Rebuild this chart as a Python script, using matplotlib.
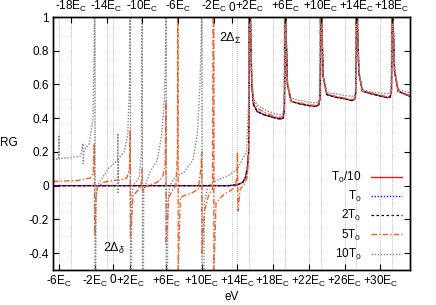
import numpy as np
import matplotlib
matplotlib.use("Agg")
import matplotlib.pyplot as plt

plt.rcParams['font.family'] = ['Liberation Sans', 'DejaVu Sans']
plt.rcParams['mathtext.fontset'] = 'custom'
plt.rcParams['mathtext.rm'] = 'Liberation Sans'
plt.rcParams['mathtext.it'] = 'Liberation Sans:italic'
plt.rcParams['font.size'] = 8.5

# x in units of E_C (bottom axis zero); top axis zero sits at +13.33 E_C
x2_shift = 13.33

bottom_ticks = [-6, -2, 0, 2, 6, 10, 14, 18, 22, 26, 30]
top_ticks = [-18, -14, -10, -6, -2, 0, 2, 6, 10, 14, 18]

# low temperature curves (T0/10, T0, 2T0)
x_low = [-6.67, 13.0, 14.0, 14.6, 14.9, 15.1, 15.25, 15.31, 15.33, 15.36, 15.45, 15.6, 15.8, 16.2, 17, 18, 18.8,
         19.1, 19.25, 19.31, 19.33, 19.36, 19.45, 19.6, 20, 21, 22, 22.8, 23.1, 23.25, 23.31, 23.33, 23.36, 23.45,
         23.6, 24, 25, 26, 26.8, 27.1, 27.25, 27.31, 27.33, 27.36, 27.45, 27.6, 28, 29, 30, 30.8, 31.1, 31.25,
         31.31, 31.33, 31.36, 31.45, 31.6, 32, 33.33]
y_t010 = [0, 0, 0.005, 0.02, 0.05, 0.1, 0.2, 0.5, 2, 2, 1.0, 0.6, 0.48, 0.44, 0.42, 0.405, 0.395,
          0.40, 0.45, 0.7, 2, 2, 0.9, 0.6, 0.50, 0.485, 0.475, 0.47, 0.48, 0.52, 0.75, 2, 2, 0.95,
          0.65, 0.54, 0.525, 0.515, 0.505, 0.51, 0.55, 0.8, 2, 2, 0.95, 0.67, 0.56, 0.545, 0.532, 0.522, 0.525,
          0.56, 0.8, 2, 2, 0.95, 0.68, 0.56, 0.53]
y_t0 = y_t010
y_2t0 = y_t010

# 5 T0
x_5t0 = [-6.67, -4, -2.5, -2.15, -2.05, -2.0, -1.95, -1.85, -1.7, -1, 0, 1, 1.6, 1.9, 1.98, 2.0, 2.03, 2.3,
         2.8, 3.1, 3.3, 3.33, 3.36, 3.6, 4, 5, 5.6, 5.9, 5.98, 6.0, 6.03, 6.3, 6.8, 7.1, 7.28, 7.33, 7.36,
         7.6, 8, 9, 9.6, 9.9, 10.0, 10.03, 10.3, 10.8, 11.2, 11.33, 11.36, 11.6, 12.5, 13.2, 13.7, 13.95, 14.0,
         14.05, 14.3, 14.8, 15.1, 15.25, 15.33, 15.36, 15.45, 15.6, 15.8, 16.2, 17, 18, 18.8,
         19.1, 19.25, 19.33, 19.36, 19.45, 19.6, 20, 21, 22, 22.8, 23.1, 23.25, 23.33, 23.36, 23.45,
         23.6, 24, 25, 26, 26.8, 27.1, 27.25, 27.33, 27.36, 27.45, 27.6, 28, 29, 30, 30.8, 31.1, 31.25,
         31.33, 31.36, 31.45, 31.6, 32, 33.33]
y_5t0 = [0.025, 0.03, 0.045, 0.08, 0.25, -0.3, -0.28, -0.06, -0.01, 0.02, 0.03, 0.035, 0.045, 0.1, 0.33, -0.3, -0.3, -0.06,
         -0.03, -0.01, 0.03, 0.1, -0.04, -0.01, 0.0, 0.02, 0.05, 0.12, 0.5, -0.35, -0.35, -0.07, -0.02, 0.0, 0.2, 2, -0.5,
         -0.07, -0.06, -0.04, -0.02, 0.1, 0.2, -0.4, -0.15, -0.05, -0.02, 2, -0.5, -0.1, -0.05, -0.03, -0.01, 0.05, 0.2,
         -0.15, -0.02, 0.01, 0.05, 0.2, 2, 2, 1.0, 0.62, 0.5, 0.46, 0.435, 0.415, 0.405,
         0.41, 0.46, 2, 2, 0.9, 0.6, 0.50, 0.49, 0.48, 0.475, 0.485, 0.53, 2, 2, 0.95,
         0.65, 0.545, 0.53, 0.52, 0.51, 0.515, 0.56, 2, 2, 0.95, 0.67, 0.56, 0.55, 0.537, 0.527, 0.53, 0.565,
         2, 2, 0.95, 0.68, 0.56, 0.535]

# 10 T0
x_10t0 = [-6.67, -6.05, -6.0, -5.97, -5, -3.6, -3.3, -3.28, -3.2, -2.6, -2.2, -2.05, -2.0, -1.95, -1.85, -1.7, -0.5,
          0.55, 0.6, 0.62, 0.65, 1.3, 1.7, 1.9, 2.0, 2.02, 2.15, 2.3, 3.0, 3.25, 3.33, 3.36, 3.5, 4.2, 5, 5.5, 5.8,
          5.95, 6.0, 6.02, 6.2, 6.4, 7, 8, 9, 9.5, 9.8, 9.95, 10.0, 10.02, 10.3, 10.7, 12, 13, 14, 15, 15.25,
          15.33, 15.36, 15.45, 15.6, 15.8, 16.2, 17, 18, 18.8,
          19.1, 19.25, 19.33, 19.36, 19.45, 19.6, 20, 21, 22, 22.8, 23.1, 23.25, 23.33, 23.36, 23.45,
          23.6, 24, 25, 26, 26.8, 27.1, 27.25, 27.33, 27.36, 27.45, 27.6, 28, 29, 30, 30.8, 31.1, 31.25,
          31.33, 31.36, 31.45, 31.6, 32, 33.33]
y_10t0 = [0.15, 0.16, 0.3, 0.16, 0.165, 0.175, 0.25, 0.13, 0.21, 0.25, 0.4, 0.8, 2, -2, -0.1, 0.0, 0.1,
          0.15, 0.31, -0.04, 0.16, 0.2, 0.3, 0.6, 2, -2, -0.1, 0.0, 0.05, 0.2, 2, -2, -0.02, 0.08, 0.15, 0.3, 0.5,
          0.8, 2, -2, -0.1, 0.0, 0.05, 0.08, 0.15, 0.3, 0.6, 0.9, 2, -2, -0.1, 0.0, 0.04, 0.06, 0.1, 0.2, 0.5,
          2, 2, 1.0, 0.65, 0.52, 0.48, 0.45, 0.43, 0.42,
          0.43, 0.48, 2, 2, 0.9, 0.62, 0.52, 0.505, 0.495, 0.49, 0.50, 0.54, 2, 2, 0.95,
          0.66, 0.55, 0.545, 0.535, 0.53, 0.535, 0.57, 2, 2, 0.95, 0.68, 0.57, 0.555, 0.55, 0.545, 0.55, 0.575,
          2, 2, 0.95, 0.69, 0.57, 0.55]

fig = plt.figure(figsize=(4.36, 3.05), dpi=100)
ax = fig.add_axes([53/436, 35/305, 357/436, 253/305])

ax.plot(x_low, y_t010, color='#e41a1c', lw=1.0, label='T$_0$/10')
ax.plot(x_low, y_t0, color='#1010ff', lw=1.0, ls=(0, (1, 1.2)), label='T$_0$')
ax.plot(x_low, y_2t0, color='black', lw=0.9, ls=(0, (2, 2)), label='2T$_0$')
ax.plot(x_5t0, y_5t0, color='#ff5a1a', lw=1.0, ls=(0, (4, 1.5, 1, 1.5)), label='5T$_0$')
ax.plot(x_10t0, y_10t0, color='#888888', lw=1.0, ls=(0, (1, 1.2)), label='10T$_0$')

ax.set_xlim(-6.67, 33.33)
ax.set_ylim(-0.5, 1)
ax.set_yticks([-0.4, -0.2, 0, 0.2, 0.4, 0.6, 0.8, 1])
ax.set_yticklabels(['-0.4', '-0.2', '0', '0.2', '0.4', '0.6', '0.8', '1'])
ax.set_xticks(bottom_ticks)
ax.set_xticklabels([('0' if t == 0 else ('%+dE$_{\\rm C}$' % t)) for t in bottom_ticks])
ax.tick_params(direction='in', right=True, length=4, width=0.8, pad=3)
ax.grid(axis='x', color='#aaaaaa', ls=(0, (1, 1.5)), lw=0.6)

ax2 = ax.twiny()
ax2.set_xlim(-6.67 - x2_shift, 33.33 - x2_shift)
ax2.set_xticks(top_ticks)
ax2.set_xticklabels([('0' if t == 0 else ('%+dE$_{\\rm C}$' % t)) for t in top_ticks])
ax2.tick_params(direction='in', length=4, width=0.8, pad=2)
ax2.grid(axis='x', color='#aaaaaa', ls=(0, (1, 1.5)), lw=0.6)

for a in (ax, ax2):
    for s in a.spines.values():
        s.set_linewidth(1.0)

ax.set_xlabel('eV', labelpad=1)
ax.set_ylabel('RG', rotation=0, labelpad=14, va='center')

ax.text(11.9, 0.85, r'2$\Delta_\Sigma$', fontsize=9)
ax.text(-1.1, -0.39, r'2$\Delta_\delta$', fontsize=9)

ax.legend(loc='lower right', frameon=False, markerfirst=False, handlelength=2.6,
          labelspacing=0.35, borderaxespad=0.3, handletextpad=0.8, fontsize=8.5)

fig.savefig('out.png', dpi=100)
